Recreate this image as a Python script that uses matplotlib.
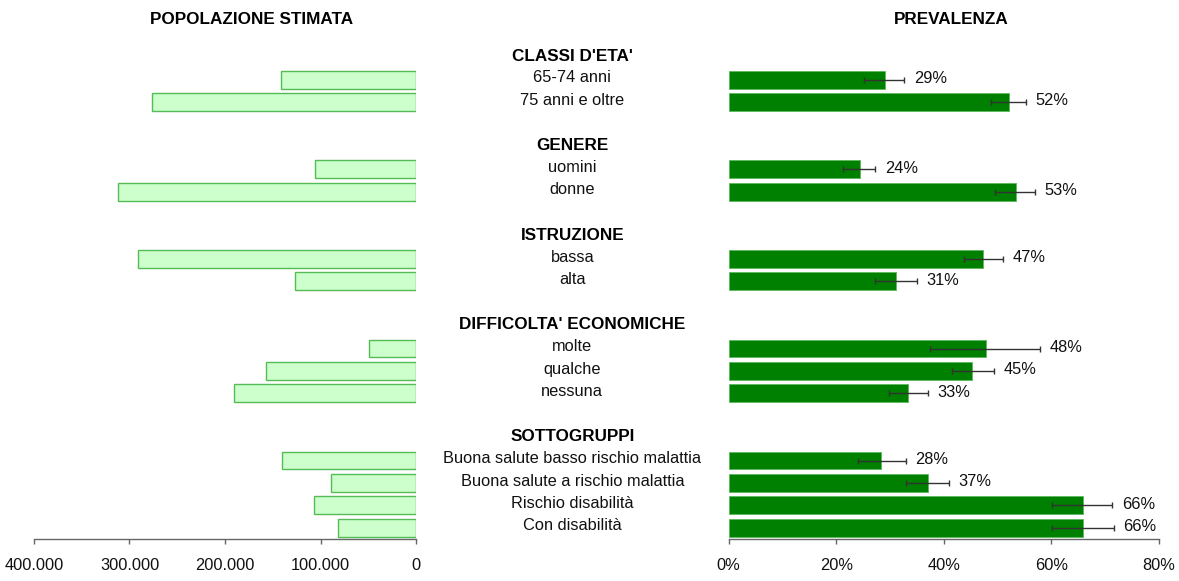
import matplotlib
matplotlib.use("Agg")
import matplotlib.pyplot as plt
import numpy as np

plt.rcParams['font.family'] = ['Liberation Sans', 'DejaVu Sans']

# Dati
gruppi = ["CLASSI D'ETA'", "GENERE", "ISTRUZIONE", "DIFFICOLTA' ECONOMICHE", "SOTTOGRUPPI"]
categorie = [["65-74 anni", "75 anni e oltre"],
             ["uomini", "donne"],
             ["bassa", "alta"],
             ["molte", "qualche", "nessuna"],
             ["Buona salute basso rischio malattia", "Buona salute a rischio malattia",
              "Rischio disabilità", "Con disabilità"]]

popolazione = [141000, 276000, 106000, 312000, 291000, 127000,
               49000, 157000, 191000, 140000, 89000, 107000, 82000]
prevalenza = [29.0, 52.1, 24.4, 53.4, 47.4, 31.1, 47.8, 45.3, 33.4, 28.4, 37.0, 65.9, 66.0]
ic_inf = [25.2, 48.8, 21.2, 49.6, 43.8, 27.3, 37.5, 41.6, 29.9, 24.1, 32.9, 60.2, 60.2]
ic_sup = [32.7, 55.3, 27.3, 57.0, 51.0, 35.0, 58.0, 49.3, 37.0, 32.9, 41.0, 71.4, 71.6]

# posizioni delle righe: titolo gruppo, voci, riga vuota
r = -1
pos_gruppi = []
pos = []
etichette = []
for g, voci in zip(gruppi, categorie):
    pos_gruppi.append(r)
    r += 1
    for v in voci:
        pos.append(r)
        etichette.append(v)
        r += 1
    r += 1
pos = np.array(pos)
prev = np.array(prevalenza)
err = [prev - np.array(ic_inf), np.array(ic_sup) - prev]

fig = plt.figure(figsize=(11.79, 5.81), dpi=100)
W, H = 1179, 581
bottom = 1 - 538.9 / H
height = (538.9 - 43.86) / H
ylim = (20.5, -1.6)

ax1 = fig.add_axes([34 / W, bottom, 382 / W, height])
axm = fig.add_axes([416 / W, bottom, 312.7 / W, height])
ax2 = fig.add_axes([728.7 / W, bottom, 430 / W, height])

fs = 11.8
fsb = 12.3

# pannello sinistro
ax1.barh(pos, popolazione, height=0.8, color='#ccffcc', edgecolor='#55bb55', linewidth=1)
ax1.set_xlim(400000, 0)
ax1.set_xticks([400000, 300000, 200000, 100000, 0])
ax1.set_xticklabels([f"{v:,}".replace(',', '.') for v in [400000, 300000, 200000, 100000, 0]])

# pannello destro
ax2.barh(pos, prev, height=0.8, color='#008000', edgecolor='#5cb85c', linewidth=0.6)
ax2.errorbar(prev, pos, xerr=err, fmt='none', ecolor='#333333', elinewidth=1, capsize=2.2, capthick=1)
for s, p, y in zip(ic_sup, prevalenza, pos):
    ax2.text(s + 1.8, y - 0.05, f"{round(p)}%", va='center', ha='left', fontsize=fs, color='#111111')
ax2.set_xlim(0, 80)
ax2.set_xticks([0, 20, 40, 60, 80])
ax2.set_xticklabels([f"{v}%" for v in [0, 20, 40, 60, 80]])

for ax in (ax1, ax2):
    ax.set_ylim(*ylim)
    ax.set_yticks([])
    for s in ('top', 'right', 'left'):
        ax.spines[s].set_visible(False)
    ax.spines['bottom'].set_color('#666666')
    ax.spines['bottom'].set_linewidth(1)
    ax.tick_params(axis='x', length=3.5, width=1, color='#666666', labelsize=fs,
                   labelcolor='#111111', pad=10)
    ax.set_facecolor('none')

# etichette centrali
axm.set_xlim(0, 1)
axm.set_ylim(*ylim)
axm.axis('off')
for g, y in zip(gruppi, pos_gruppi):
    axm.text(0.5, y - 0.05, g, ha='center', va='center', fontsize=fsb, fontweight='bold', color='#000000')
for e, y in zip(etichette, pos):
    axm.text(0.5, y - 0.08, e, ha='center', va='center', fontsize=fs, color='#111111')

fig.text(252 / W, 1 - 20 / H, "POPOLAZIONE STIMATA", ha='center', va='center',
         fontsize=fsb, fontweight='bold')
fig.text(951 / W, 1 - 19 / H, "PREVALENZA", ha='center', va='center',
         fontsize=fsb, fontweight='bold')

fig.savefig("out.png", dpi=100)
